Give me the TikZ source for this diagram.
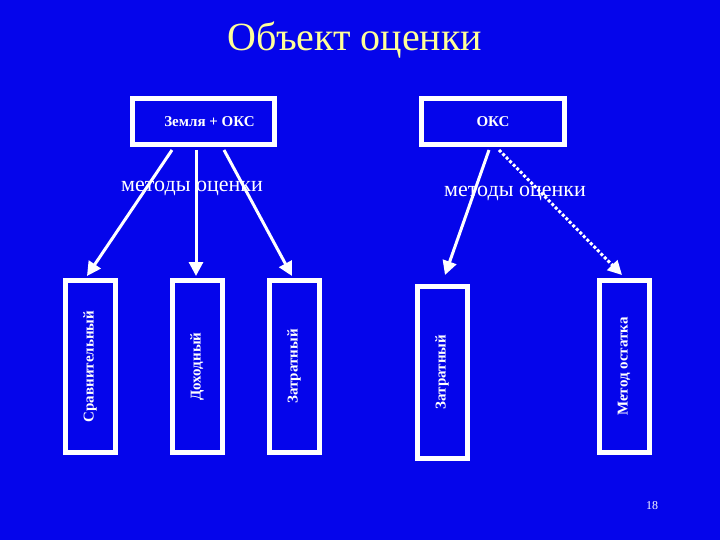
\documentclass[tikz,border=0pt]{standalone}
\usepackage{fontspec}
\setmainfont{Liberation Serif}
\usetikzlibrary{arrows.meta}
\definecolor{bg}{RGB}{5,5,235}
\definecolor{ttl}{RGB}{255,255,153}
\begin{document}
\begin{tikzpicture}[x=1pt,y=-1pt,
  box/.style={draw=white,line width=5pt,fill=bg,inner sep=0pt,text=white,font=\bfseries\fontsize{15}{15}\selectfont},
  vbox/.style={box,minimum width=50pt,minimum height=172pt},
  arr/.style={draw=white,line width=3pt,-{Triangle[length=14pt,width=14pt]}},
  dotarr/.style={arr,dash pattern=on 3pt off 2pt}]
\fill[bg] (0,0) rectangle (720,540);
\useasboundingbox (0,0) rectangle (720,540);
\node[text=ttl,font=\fontsize{40}{40}\selectfont] (title) at (355,40) {Объект оценки};
\node[box,minimum width=142pt,minimum height=46pt] (z) at (203.5,122) {\hspace{12pt}Земля + ОКС};
\node[box,minimum width=143pt,minimum height=46pt] (o) at (493,122) {ОКС};
\node[text=white,font=\fontsize{22}{22}\selectfont] (m1) at (192,188) {методы оценки};
\node[text=white,font=\fontsize{22}{22}\selectfont] (m2) at (515,193) {методы оценки};
\node[vbox] (b1) at (90,366.5) {\rotatebox{90}{Сравнительный}};
\node[vbox] (b2) at (197,366.5) {\rotatebox{90}{Доходный}};
\node[vbox] (b3) at (294,366.5) {\rotatebox{90}{Затратный}};
\node[vbox] (b4) at (442,372) {\rotatebox{90}{Затратный}};
\node[vbox] (b5) at (624,366.5) {\rotatebox{90}{Метод остатка}};
\node[text=white,font=\fontsize{12}{12}\selectfont] (pg) at (652,506) {18};
\coordinate (s1) at (172,150); \coordinate (e1) at (87,276);
\coordinate (s2) at (196,150); \coordinate (e2) at (196,276);
\coordinate (s3) at (224,150); \coordinate (e3) at (292,276);
\coordinate (s4) at (489,150); \coordinate (e4) at (445,275);
\coordinate (s5) at (499,150); \coordinate (e5) at (622,275);
\draw[arr] (s1) -- (e1);
\draw[arr] (s2) -- (e2);
\draw[arr] (s3) -- (e3);
\draw[arr] (s4) -- (e4);
\draw[dotarr] (s5) -- (e5);
\end{tikzpicture}
\end{document}
